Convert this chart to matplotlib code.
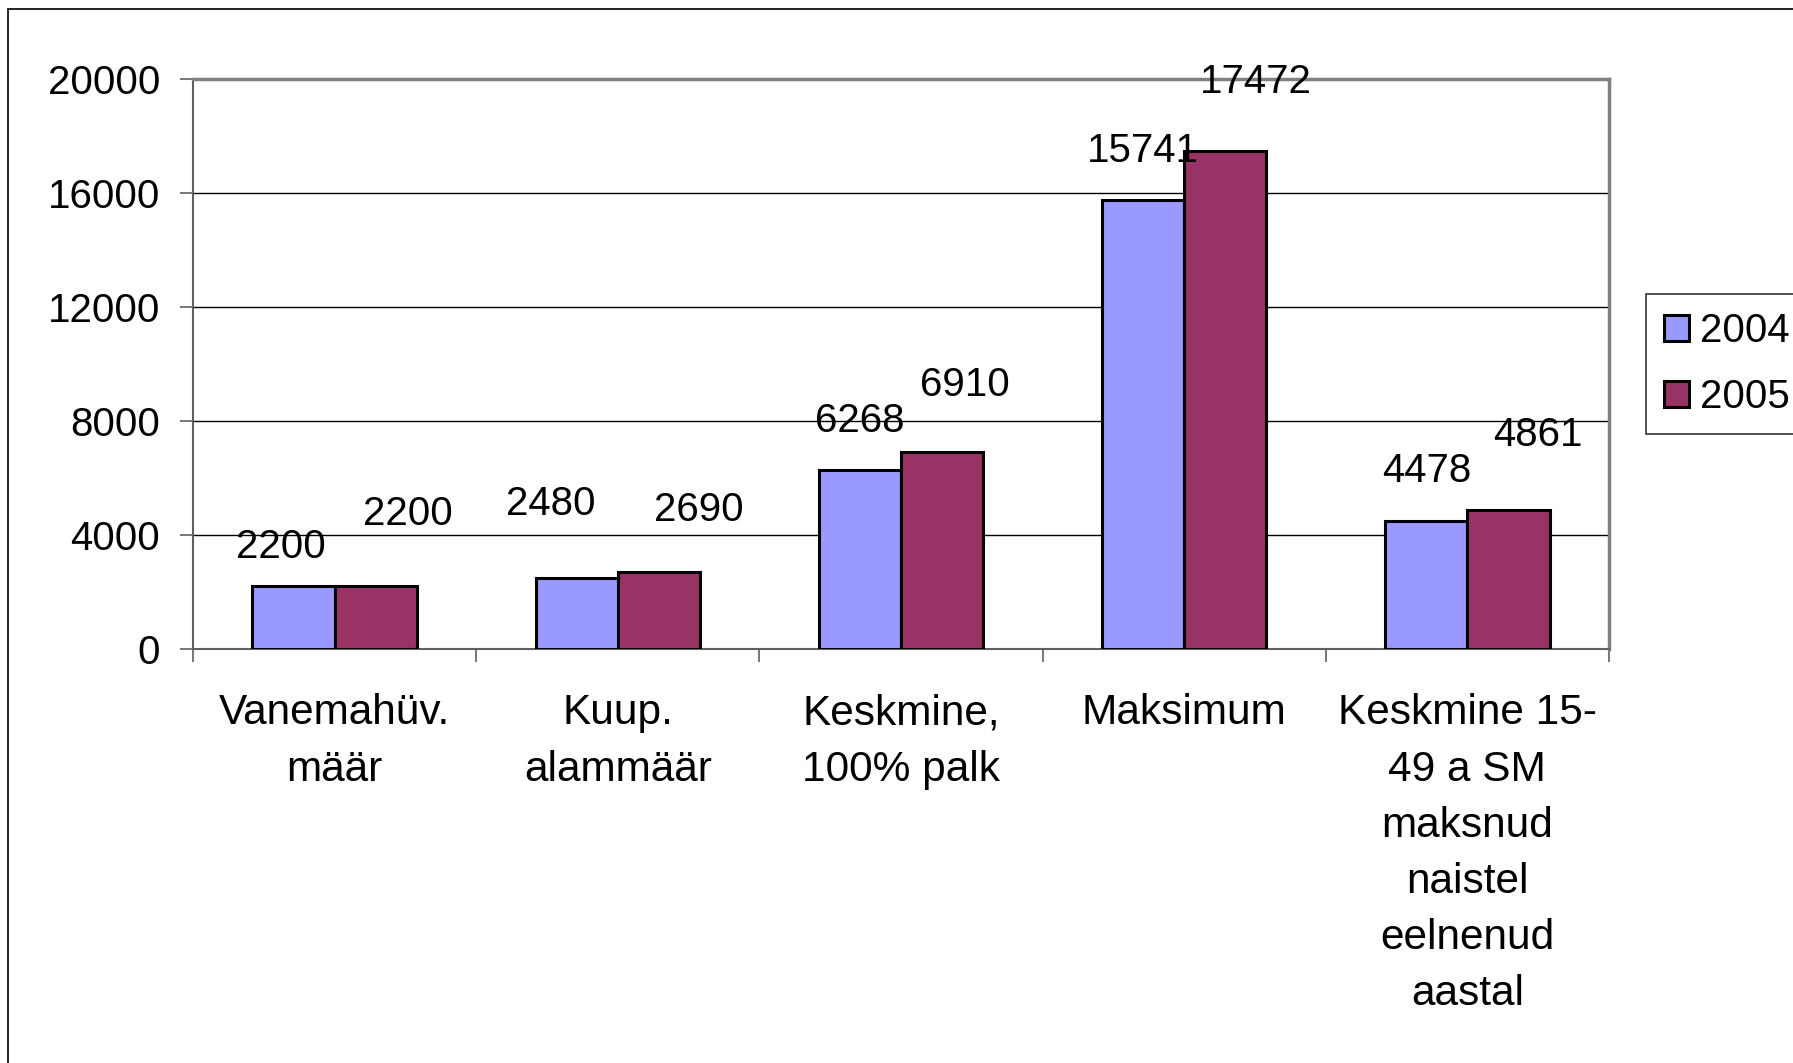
import numpy as np
import matplotlib
matplotlib.use("Agg")
import matplotlib.pyplot as plt
from matplotlib.patches import Rectangle

# Andmed
categories = [
    "Vanemahüv.\nmäär",
    "Kuup.\nalammäär",
    "Keskmine,\n100% palk",
    "Maksimum",
    "Keskmine 15-\n49 a SM\nmaksnud\nnaistel\neelnenud\naastal",
]
series_names = ["2004", "2005"]
values_2004 = [2200, 2480, 6268, 15741, 4478]
values_2005 = [2200, 2690, 6910, 17472, 4861]
y_ticks = [0, 4000, 8000, 12000, 16000, 20000]

# Andmesiltide nihked pikslites (Excel paigutab need ebaühtlaselt)
label_offsets_2004 = [(-13, 39), (-26, 74), (0, 49), (0, 49), (0, 50)]
label_offsets_2005 = [(32, 72), (40, 62), (23, 67), (31, 69), (29, 75)]

colors = ["#9999FF", "#993366"]
fs = 29
fs_cat = 30.5

plt.rcParams["font.family"] = ["Liberation Sans", "DejaVu Sans"]

fig = plt.figure(figsize=(17.93, 10.63), dpi=100)
ax = fig.add_axes([193 / 1793, 1 - 649 / 1063, (1609 - 193) / 1793, (649 - 79) / 1063])

# Figuuri raam (parem ja alumine serv jäävad pildist välja)
fig.patches.append(Rectangle((8 / 1793, -0.1), 1.2, 1.1 - 9 / 1063,
                             transform=fig.transFigure, fill=False,
                             edgecolor="black", linewidth=1.2))

x = np.arange(len(categories))
w = 0.29
bars1 = ax.bar(x - w / 2, values_2004, w, color=colors[0], edgecolor="black",
               linewidth=2.2, label=series_names[0], zorder=3)
bars2 = ax.bar(x + w / 2, values_2005, w, color=colors[1], edgecolor="black",
               linewidth=2.2, label=series_names[1], zorder=3)

for bars, vals, offs in [(bars1, values_2004, label_offsets_2004),
                         (bars2, values_2005, label_offsets_2005)]:
    for b, v, (dx, dy) in zip(bars, vals, offs):
        ax.annotate(str(v), (b.get_x() + b.get_width() / 2, v),
                    xytext=(dx, dy), textcoords="offset pixels",
                    ha="center", va="center", fontsize=fs, zorder=4)

ax.set_xlim(-0.5, len(categories) - 0.5)
ax.set_ylim(0, 20000)
ax.set_yticks(y_ticks)
ax.set_yticklabels([str(t) for t in y_ticks], fontsize=fs)
ax.yaxis.grid(True, color="black", linewidth=1.0, zorder=0)

ax.set_xticks(x)
ax.set_xticklabels(categories, fontsize=fs_cat, linespacing=1.52, va="top")
ax.set_xticks(np.arange(-0.5, len(categories)), minor=True)
ax.tick_params(axis="x", which="major", length=0, pad=32)
ax.tick_params(axis="x", which="minor", length=9.5, width=1.2, color="#606060",
               direction="out")
ax.tick_params(axis="y", length=9.5, width=1.2, color="#606060", pad=14,
               direction="out")

for side in ["left", "bottom"]:
    ax.spines[side].set_color("#606060")
    ax.spines[side].set_linewidth(1.5)
for side in ["top", "right"]:
    ax.spines[side].set_color("#808080")
    ax.spines[side].set_linewidth(2.5)

leg = fig.legend(handles=[bars1, bars2], labels=series_names,
                 loc="upper left", bbox_to_anchor=(1646 / 1793, 1 - 294 / 1063),
                 fontsize=fs, frameon=True, fancybox=False, edgecolor="black",
                 handlelength=0.62, handleheight=0.62, handletextpad=0.28,
                 labelspacing=0.7, borderpad=0.45, borderaxespad=0)
leg.get_frame().set_linewidth(1.2)

fig.savefig("out.png", dpi=100)
